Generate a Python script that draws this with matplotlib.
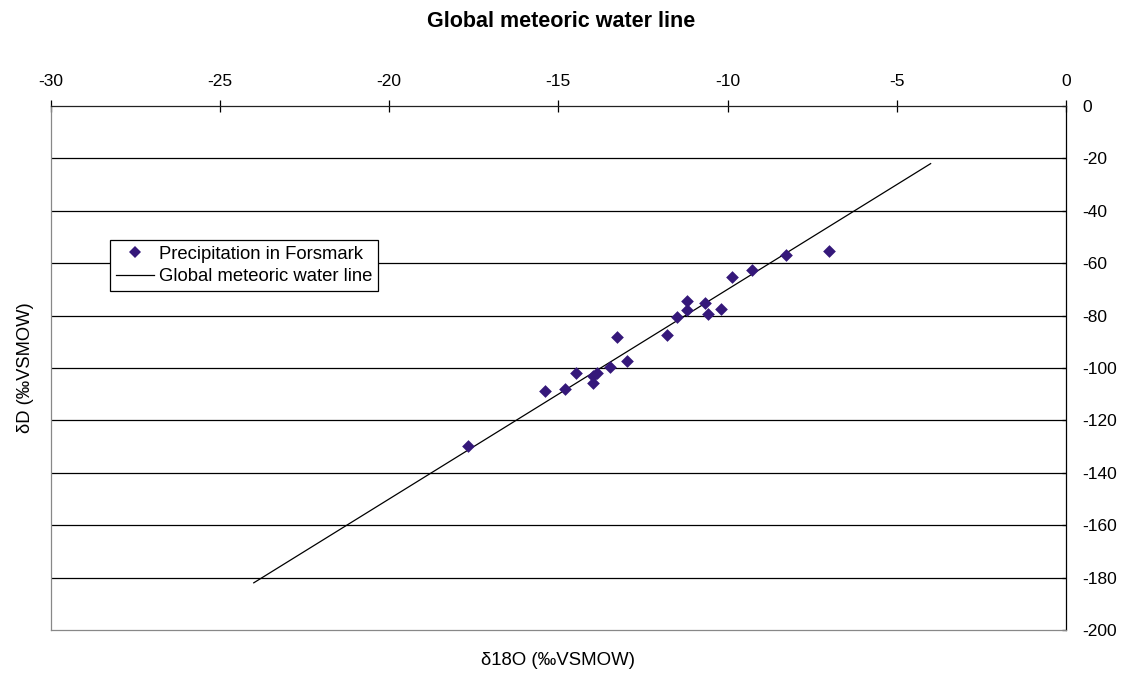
import matplotlib
matplotlib.use("Agg")
import matplotlib.pyplot as plt
from matplotlib.lines import Line2D

plt.rcParams['font.family'] = ['Liberation Sans', 'DejaVu Sans']

# Precipitation samples from Forsmark (per mil VSMOW)
d18o = [-17.68, -15.39, -14.79, -14.49, -13.99, -13.99, -13.87, -13.48, -13.28,
        -12.98, -11.78, -11.49, -11.19, -11.19, -10.68, -10.58, -10.18, -9.88,
        -9.28, -8.28, -6.99]
dD = [-129.8, -108.8, -108.0, -102.0, -105.9, -103.0, -101.9, -99.6, -88.2,
      -97.3, -87.5, -80.4, -77.9, -74.6, -75.2, -79.3, -77.5, -65.4,
      -62.5, -57.0, -55.3]

# Global meteoric water line: dD = 8 * d18O + 10
gmwl_x = [-24, -4]
gmwl_y = [8 * v + 10 for v in gmwl_x]

x_ticks = [-30, -25, -20, -15, -10, -5, 0]
y_ticks = list(range(0, -201, -20))

MARKER_COLOR = '#35187A'

fig = plt.figure(figsize=(11.24, 6.79), dpi=100)
ax = fig.add_axes([0.0451, 0.0722, 0.9033, 0.7717])

ax.set_xlim(-30, 0)
ax.set_ylim(-200, 0)

for yv in y_ticks[1:-1]:
    ax.axhline(yv, color='black', lw=0.9, zorder=1)

ax.plot(gmwl_x, gmwl_y, color='black', lw=0.9, zorder=2)
ax.scatter(d18o, dD, marker='D', s=42, color=MARKER_COLOR, zorder=3,
           linewidths=0)

ax.xaxis.tick_top()
ax.xaxis.set_label_position('bottom')
ax.yaxis.tick_right()
ax.yaxis.set_label_position('left')
ax.set_xticks(x_ticks)
ax.set_xticklabels([str(v) for v in x_ticks])
ax.set_yticks(y_ticks)
ax.set_yticklabels([str(v) for v in y_ticks])
ax.tick_params(axis='x', direction='inout', length=8, width=0.9, pad=8,
               labelsize=12.5, color='black')
ax.tick_params(axis='y', direction='in', length=3, width=0.9, pad=12,
               labelsize=12.5, color='black')

ax.spines['top'].set_color('#222222')
ax.spines['right'].set_color('black')
ax.spines['left'].set_color('#888888')
ax.spines['bottom'].set_color('#888888')
for s in ax.spines.values():
    s.set_linewidth(0.9)

ax.set_xlabel('δ18O (‰VSMOW)', fontsize=13.4, labelpad=16)
ax.set_ylabel('δD (‰VSMOW)', fontsize=13.2, labelpad=12)
fig.text(0.4995, 0.968, 'Global meteoric water line', fontsize=15.5,
         fontweight='bold', ha='center', va='center')

handles = [
    Line2D([], [], marker='D', linestyle='none', color=MARKER_COLOR,
           markersize=6, markeredgewidth=0),
    Line2D([], [], color='black', lw=0.9),
]
leg = ax.legend(handles, ['Precipitation in Forsmark', 'Global meteoric water line'],
                loc='upper left', bbox_to_anchor=(0.0584, 0.744),
                fontsize=13.3, frameon=True, fancybox=False,
                handlelength=2.1, handletextpad=0.25, borderpad=0.3,
                labelspacing=0.3, borderaxespad=0)
leg.get_frame().set_edgecolor('black')
leg.get_frame().set_linewidth(0.9)
leg.get_frame().set_facecolor('white')
leg.get_frame().set_alpha(1)

fig.savefig('out.png', dpi=100)
